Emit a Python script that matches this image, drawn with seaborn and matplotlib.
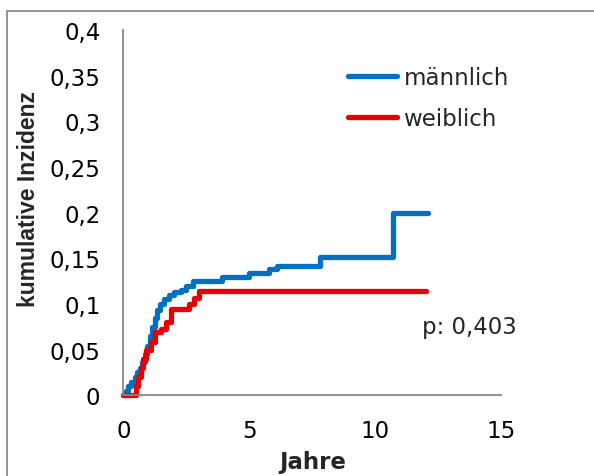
import numpy as np
import pandas as pd
import matplotlib
matplotlib.use("Agg")
import matplotlib.pyplot as plt
from matplotlib.lines import Line2D
import seaborn as sns

# ---- data ----
male_t = [0.0, 0.1, 0.2, 0.3, 0.45, 0.55, 0.65, 0.75, 0.85, 0.95, 1.05, 1.15, 1.25,
          1.35, 1.45, 1.6, 1.8, 2.0, 2.3, 2.5, 2.75, 3.9, 5.0, 5.8, 6.1, 7.8, 10.7, 12.1]
male_v = [0.0, 0.005, 0.01, 0.015, 0.02, 0.025, 0.03, 0.037, 0.045, 0.054, 0.065, 0.075, 0.085,
          0.093, 0.1, 0.105, 0.11, 0.113, 0.115, 0.12, 0.125, 0.13, 0.134, 0.138, 0.142, 0.151, 0.2, 0.2]
female_t = [0.0, 0.5, 0.6, 0.7, 0.8, 0.9, 1.1, 1.25, 1.5, 1.7, 1.9, 2.6, 2.8, 3.0, 12.0]
female_v = [0.0, 0.01, 0.02, 0.03, 0.04, 0.05, 0.058, 0.069, 0.073, 0.08, 0.094, 0.1, 0.107, 0.1145, 0.1145]
series_names = ["männlich", "weiblich"]
x_ticks = [0, 5, 10, 15]
y_ticks = [0, 0.05, 0.1, 0.15, 0.2, 0.25, 0.3, 0.35, 0.4]
y_tick_labels = ["0", "0,05", "0,1", "0,15", "0,2", "0,25", "0,3", "0,35", "0,4"]
p_text = "p: 0,403"

df = pd.concat([
    pd.DataFrame({"Jahre": male_t, "kumulative Inzidenz": male_v, "Geschlecht": series_names[0]}),
    pd.DataFrame({"Jahre": female_t, "kumulative Inzidenz": female_v, "Geschlecht": series_names[1]}),
], ignore_index=True)

sns.set_style("white")
plt.rcParams["font.family"] = ["DejaVu Sans"]

colors = {series_names[0]: "#0070C0", series_names[1]: "#E60000"}
axis_gray = "#868686"
fs = 16.5

fig = plt.figure(figsize=(5.94, 4.77), dpi=100)
ax = fig.add_axes([0.2076, 0.1692, 0.6364, 0.7658])

sns.lineplot(data=df, x="Jahre", y="kumulative Inzidenz", hue="Geschlecht",
             palette=colors, estimator=None, sort=False, drawstyle="steps-post",
             linewidth=3.8, ax=ax, legend=False)
for ln in ax.get_lines():
    ln.set_solid_capstyle("round")
    ln.set_solid_joinstyle("round")
    ln.set_clip_on(False)

ax.set_xlim(0, 15)
ax.set_ylim(0, 0.4)
ax.set_xticks(x_ticks)
ax.set_xticklabels([str(v) for v in x_ticks])
ax.set_yticks(y_ticks)
ax.set_yticklabels(y_tick_labels)

for s in ["top", "right"]:
    ax.spines[s].set_visible(False)
for s in ["left", "bottom"]:
    ax.spines[s].set_color(axis_gray)
    ax.spines[s].set_linewidth(1.3)
ax.tick_params(axis="both", direction="inout", length=12, width=1.3, color=axis_gray,
               labelsize=fs, labelcolor="black")
ax.tick_params(axis="y", pad=10.5)
ax.tick_params(axis="x", pad=11)

ax.set_xlabel("Jahre", fontsize=fs, fontweight="bold", labelpad=6)
ax.set_ylabel("kumulative Inzidenz", fontsize=fs, fontweight="bold", labelpad=7,
              family=["Liberation Sans", "DejaVu Sans"])
ax.yaxis.label.set_y(0.54)

handles = [Line2D([0], [0], color=colors[n], lw=3.8, solid_capstyle="round") for n in series_names]
ax.legend(handles, series_names, loc="center left", bbox_to_anchor=(0.569, 0.8133),
          frameon=False, fontsize=fs, handlelength=2.17, handletextpad=0.27,
          labelspacing=0.8, borderaxespad=0)

ax.text(11.85, 0.0678, p_text, fontsize=fs, va="baseline", ha="left")

# chart-area frame (only left and top visible, as cropped in the reference)
fx = 7.3 / 594
fy = 1 - 11.7 / 477
fig.add_artist(Line2D([fx, fx], [0, fy], transform=fig.transFigure, color="#8c8c8c", lw=1.3))
fig.add_artist(Line2D([fx, 1.0], [fy, fy], transform=fig.transFigure, color="#8c8c8c", lw=1.3))

fig.savefig("out.png", dpi=100, facecolor="white")
